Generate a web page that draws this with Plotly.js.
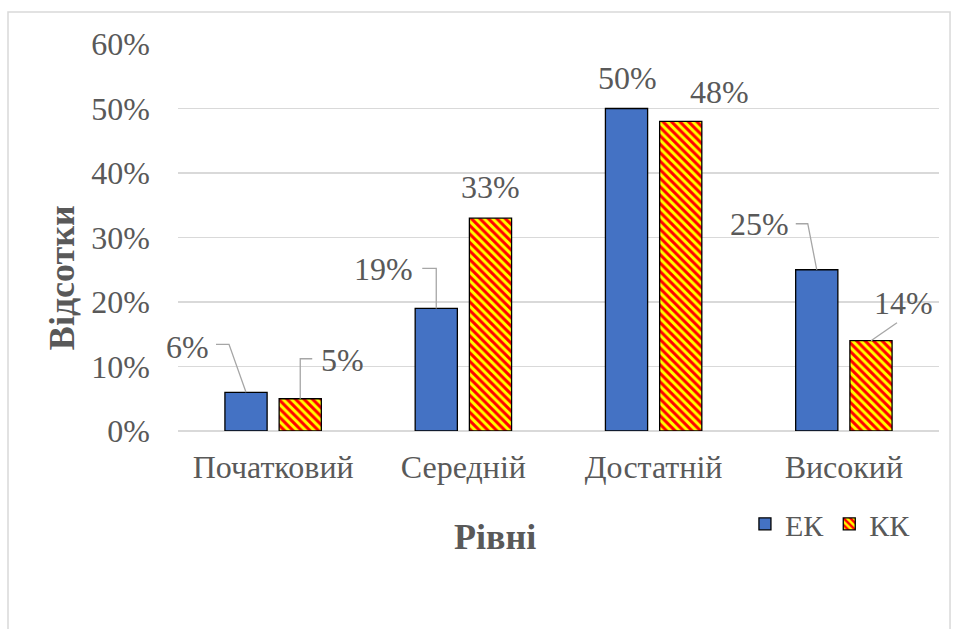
<!DOCTYPE html>
<html>
<head>
<meta charset="utf-8">
<script src="https://cdn.plot.ly/plotly-3.0.1.min.js"></script>
<style>html,body{margin:0;padding:0;background:#fff;}#chart{width:955px;height:629px;}</style>
</head>
<body>
<div id="chart"></div>
<script>
// Data
const categories = ['Початковий', 'Середній', 'Достатній', 'Високий'];
const seriesNames = ['ЕК', 'КК'];
const ekValues = [0.06, 0.19, 0.50, 0.25];
const kkValues = [0.05, 0.33, 0.48, 0.14];
const ekLabels = ['6%', '19%', '50%', '25%'];
const kkLabels = ['5%', '33%', '48%', '14%'];
const yTickVals = [0, 0.1, 0.2, 0.3, 0.4, 0.5, 0.6];
const yTickText = ['0%', '10%', '20%', '30%', '40%', '50%', '60%'];
const xTitle = 'Рівні';
const yTitle = 'Відсотки';

// Styling
const textColor = '#595959';
const font = '"Liberation Serif", "Times New Roman", serif';
const fs = 32;
const bargap = 0.43;
const half = (1 - bargap) / 4;

const ekLabelPos = [[-59, 45], [-53, 39], [1, 31], [-57, 46]];
const kkLabelPos = [[42, 39], [0, 31], [39, 29], [33, 38]];
const ekLeaders = ['M -30,48 L -17,48 L 0,0', 'M -14,40 L 0,40 L 0,0', null, 'M -21,46 L -9,46 L 0,0'];
const kkLeaders = ['M 12,40 L 0,40 L 0,0', null, null, 'M 26,18 L 0,0'];

const traces = [
  {
    type: 'bar', name: seriesNames[0], x: categories, y: ekValues,
    marker: {color: '#4472C4', line: {color: '#000000', width: 1.3}},
    hoverinfo: 'none'
  },
  {
    type: 'bar', name: seriesNames[1], x: categories, y: kkValues,
    marker: {
      color: '#FFFF00',
      line: {color: '#000000', width: 1.3},
      pattern: {shape: '\\', fgcolor: '#FF0000', bgcolor: '#FFFF00', size: 6, solidity: 0.5, fillmode: 'replace'}
    },
    hoverinfo: 'none'
  }
];

const annotations = [];
const shapes = [];
function addLabels(values, labels, pos, leaders, sign) {
  values.forEach((v, i) => {
    const xc = i + sign * half;
    annotations.push({
      x: xc, y: v, xref: 'x', yref: 'y', text: labels[i], showarrow: false,
      xshift: pos[i][0], yshift: pos[i][1], xanchor: 'center', yanchor: 'middle',
      font: {family: font, size: fs, color: textColor}
    });
    if (leaders[i]) {
      shapes.push({
        type: 'path', xref: 'x', yref: 'y', xsizemode: 'pixel', ysizemode: 'pixel',
        xanchor: xc, yanchor: v, path: leaders[i],
        line: {color: '#A6A6A6', width: 1.3}, layer: 'above'
      });
    }
  });
}
addLabels(ekValues, ekLabels, ekLabelPos, ekLeaders, -1);
addLabels(kkValues, kkLabels, kkLabelPos, kkLeaders, 1);

// axis titles (placed like the reference, off-centre)
annotations.push({
  x: 0.4166, y: 0, xref: 'paper', yref: 'paper', yshift: -106, showarrow: false,
  text: '<b>' + xTitle + '</b>', xanchor: 'center', yanchor: 'middle',
  font: {family: font, size: 36, color: textColor}
});
annotations.push({
  x: 0, y: 0.395, xref: 'paper', yref: 'paper', xshift: -116, showarrow: false, textangle: -90,
  text: '<b>' + yTitle + '</b>', xanchor: 'center', yanchor: 'middle',
  font: {family: font, size: 36, color: textColor}
});

shapes.push({type: 'path', xref: 'paper', yref: 'paper',
  path: 'M -0.2234,-0.8 L -0.2234,1.0827 L 1.0145,1.0827 L 1.0145,-0.8',
  line: {color: '#D9D9D9', width: 1.5}, layer: 'below'});

const layout = {
  width: 955, height: 629,
  margin: {l: 178, r: 16, t: 44, b: 198},
  paper_bgcolor: '#ffffff', plot_bgcolor: '#ffffff',
  barmode: 'group', bargap: bargap, bargroupgap: 0.222,
  font: {family: font, color: textColor, size: fs},
  showlegend: true,
  legend: {
    orientation: 'h', x: 0.745, y: -0.24, xanchor: 'left', yanchor: 'middle',
    font: {family: font, size: 30, color: textColor}, itemwidth: 30, tracegroupgap: 0
  },
  xaxis: {
    type: 'category', range: [-0.5, 3.5], showgrid: false, zeroline: false, showline: false, ticks: '', automargin: false,
    tickfont: {family: font, size: fs, color: textColor}, ticklabelstandoff: 14
  },
  yaxis: {
    range: [0, 0.6], tickvals: yTickVals, ticktext: yTickText, automargin: false,
    showgrid: true, gridcolor: '#D9D9D9', gridwidth: 1.3, zeroline: true, zerolinecolor: '#D9D9D9', zerolinewidth: 1.3,
    showline: false, ticks: '',
    tickfont: {family: font, size: fs, color: textColor}, ticklabelstandoff: 27
  },
  annotations: annotations,
  shapes: shapes
};

Plotly.newPlot('chart', traces, layout, {displayModeBar: false, staticPlot: true});
</script>
</body>
</html>
